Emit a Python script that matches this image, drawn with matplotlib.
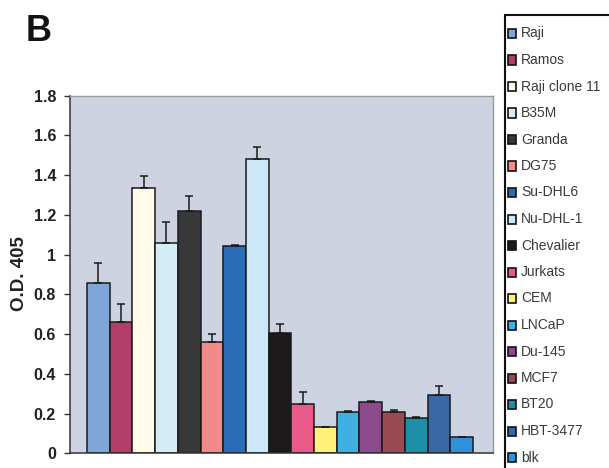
import matplotlib
matplotlib.use("Agg")
import matplotlib.pyplot as plt
from matplotlib.patches import Rectangle

# Cell lines, mean O.D. 405 readings and upper error values
cell_lines = ["Raji", "Ramos", "Raji clone 11", "B35M", "Granda", "DG75",
              "Su-DHL6", "Nu-DHL-1", "Chevalier", "Jurkats", "CEM", "LNCaP",
              "Du-145", "MCF7", "BT20", "HBT-3477", "blk"]
od_values = [0.855, 0.663, 1.334, 1.057, 1.221, 0.562,
             1.044, 1.482, 0.604, 0.248, 0.131, 0.206,
             0.260, 0.210, 0.176, 0.293, 0.084]
od_errors = [0.105, 0.089, 0.062, 0.109, 0.076, 0.038,
             0.005, 0.062, 0.046, 0.062, 0.0, 0.007,
             0.005, 0.007, 0.005, 0.046, 0.0]
bar_colors = ["#7fa6d6", "#b23e68", "#fffbe8", "#d4ecf6", "#383838", "#f28a8a",
              "#2a6cb6", "#cce8f8", "#1c1a1a", "#e85a88", "#fff07a", "#40b0e2",
              "#8a4a8c", "#9a4a52", "#1e8fa8", "#3a68a6", "#3090d8"]
y_ticks = [0, 0.2, 0.4, 0.6, 0.8, 1, 1.2, 1.4, 1.6, 1.8]
y_tick_labels = ["0", "0.2", "0.4", "0.6", "0.8", "1", "1.2", "1.4", "1.6", "1.8"]

W, H = 609, 468
fig = plt.figure(figsize=(W / 100, H / 100), dpi=100)
fig.patch.set_facecolor("white")

ax = fig.add_axes([70 / W, 1 - 453.3 / H, 423 / W, (453.3 - 95.7) / H])
ax.set_facecolor("#cdd3e0")

x = list(range(len(cell_lines)))
ax.bar(x, od_values, width=1.0, color=bar_colors, edgecolor="#1a1a1a",
       linewidth=1.1, zorder=2)
err_lo = [0] * len(od_errors)
ax.errorbar(x, od_values, yerr=[err_lo, od_errors], fmt="none",
            ecolor="#1a1a1a", elinewidth=1.1, capsize=3, capthick=1.1, zorder=3)

ax.set_xlim(-1.25, 17.38)
ax.set_ylim(0, 1.8)
ax.set_xticks([])
ax.set_yticks(y_ticks)
ax.set_yticklabels(y_tick_labels, fontsize=11.5, fontweight="bold",
                   family="Liberation Sans", color="#222222")
ax.tick_params(axis="y", direction="out", length=4, width=1, color="#333333", pad=6)

for side in ("left", "bottom"):
    ax.spines[side].set_color("#333333")
    ax.spines[side].set_linewidth(1.1)
for side in ("top", "right"):
    ax.spines[side].set_color("#9a9a9a")
    ax.spines[side].set_linewidth(1.0)

fig.text(19 / W, 1 - 274 / H, "O.D. 405", rotation=90, ha="center", va="center",
         fontsize=13.5, fontweight="bold", family="Liberation Sans", color="#222222")

fig.text(26 / W, 1 - 31.5 / H, "B", ha="left", va="center", fontsize=26,
         fontweight="bold", family="Liberation Sans", color="#111111")

# Legend box, running off the right and bottom edges
fig.patches.append(Rectangle((505 / W, 1 - 480 / H), 120 / W, (480 - 15) / H,
                             transform=fig.transFigure, facecolor="white",
                             edgecolor="#111111", linewidth=1.5, clip_on=True))
y0, step = 33.5, 26.5
for i, (name, col) in enumerate(zip(cell_lines, bar_colors)):
    yc = y0 + i * step
    fig.patches.append(Rectangle((508 / W, 1 - (yc + 4.5) / H), 8 / W, 9 / H,
                                 transform=fig.transFigure, facecolor=col,
                                 edgecolor="#111111", linewidth=1.2))
    fig.text(521 / W, 1 - yc / H, name, ha="left", va="center", fontsize=10,
             family="Liberation Sans", color="#3a3a3a")

fig.savefig("out.png", dpi=100)
